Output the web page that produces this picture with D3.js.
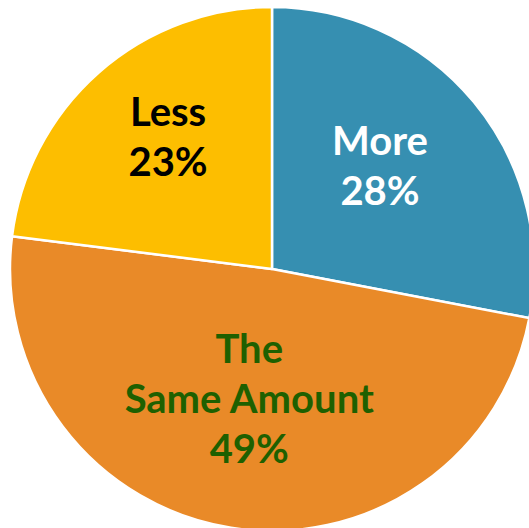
<!DOCTYPE html>
<html>
<head>
<meta charset="utf-8">
<script src="https://cdn.jsdelivr.net/npm/d3@7"></script>
<style>
  html, body { margin: 0; padding: 0; background: #ffffff; }
  svg { display: block; }
</style>
</head>
<body>
<svg id="chart" width="529" height="528"></svg>
<script>
// Share of responses by answer
const categories = ["More", "The Same Amount", "Less"];
const labelLines = [["More", "28%"], ["The", "Same Amount", "49%"], ["Less", "23%"]];
const values = [28, 49, 23];

const sliceColors = ["#368FB1", "#E98A28", "#FDBE00"];
const textColors = ["#FFFFFF", "#1E6000", "#000000"];
// distance of each label from the centre, as a share of the radius
const labelRadius = [0.535, 0.556, 0.6];

const width = 529, height = 528;
const cx = 272, cy = 269, radius = 262;

const svg = d3.select("#chart");
const g = svg.append("g").attr("transform", `translate(${cx},${cy})`);

const pie = d3.pie().sort(null).value(d => d);
const arcs = pie(values);

const arc = d3.arc().innerRadius(0).outerRadius(radius);

g.selectAll("path.slice")
  .data(arcs)
  .join("path")
  .attr("class", "slice")
  .attr("d", arc)
  .attr("fill", (d, i) => sliceColors[i])
  .attr("stroke", "#ffffff")
  .attr("stroke-width", 2.5)
  .attr("stroke-linejoin", "round");

const lineHeight = 50;
g.selectAll("text.label")
  .data(arcs)
  .join("text")
  .attr("class", "label")
  .attr("text-anchor", "middle")
  .attr("font-family", "Lato, 'Open Sans', sans-serif")
  .attr("font-weight", 700)
  .attr("font-size", 40)
  .attr("fill", (d, i) => textColors[i])
  .each(function (d, i) {
    const la = d3.arc().innerRadius(radius * labelRadius[i]).outerRadius(radius * labelRadius[i]);
    const [x, y] = la.centroid(d);
    const lines = labelLines[i];
    const t = d3.select(this);
    lines.forEach((s, k) => {
      t.append("tspan")
        .attr("x", x)
        .attr("y", y + (k - (lines.length - 1) / 2) * lineHeight)
        .text(s);
    });
  });
</script>
</body>
</html>
